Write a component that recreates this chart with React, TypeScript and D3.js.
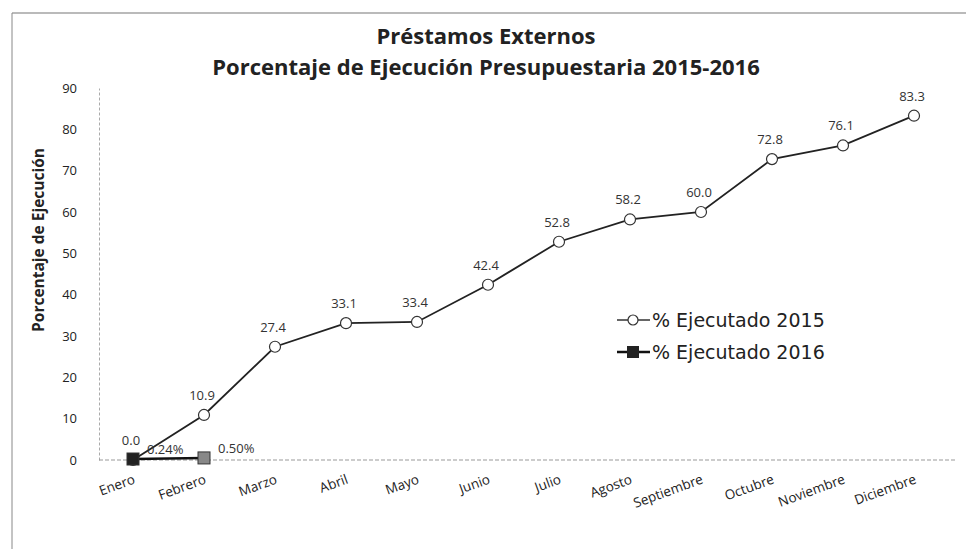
import { useEffect, useRef } from 'react';
import * as d3 from 'd3';

const months = [
  'Enero', 'Febrero', 'Marzo', 'Abril', 'Mayo', 'Junio',
  'Julio', 'Agosto', 'Septiembre', 'Octubre', 'Noviembre', 'Diciembre',
];
const ejecutado2015 = [0.0, 10.9, 27.4, 33.1, 33.4, 42.4, 52.8, 58.2, 60.0, 72.8, 76.1, 83.3];
const ejecutado2016 = [0.24, 0.5];
const labels2016 = ['0.24%', '0.50%'];
const yTicks = [0, 10, 20, 30, 40, 50, 60, 70, 80, 90];

export default function App(): JSX.Element {
  const svgRef = useRef<SVGSVGElement>(null);

  useEffect(() => {
    if (svgRef.current) {
      svgRef.current.innerHTML = '';
    }
    const width = 968;
    const height = 549;
    const font = "'Open Sans', 'Noto Sans', sans-serif";

    const x = d3.scalePoint<string>().domain(months).range([133, 914]);
    const y = d3.scaleLinear([0, 90], [460, 88]);

    const svg = d3
      .select(svgRef.current)
      .attr('width', width)
      .attr('height', height)
      .attr('viewBox', [0, 0, width, height])
      .style('display', 'block')
      .style('background', '#fff');

    // frame
    svg.append('line').attr('x1', 12).attr('x2', 966).attr('y1', 13).attr('y2', 13)
      .attr('stroke', '#777').attr('stroke-width', 1.2);
    svg.append('line').attr('x1', 12).attr('x2', 12).attr('y1', 13).attr('y2', 549)
      .attr('stroke', '#888').attr('stroke-width', 1);

    // title
    const title = svg.append('text').attr('text-anchor', 'middle').attr('font-family', font)
      .attr('font-weight', 700).attr('font-size', 22).attr('fill', '#222');
    title.append('tspan').attr('x', 486).attr('y', 44).text('Préstamos Externos');
    title.append('tspan').attr('x', 486).attr('y', 75).text('Porcentaje de Ejecución Presupuestaria 2015-2016');

    // y axis
    svg.append('g')
      .attr('transform', 'translate(99,0)')
      .call(d3.axisLeft(y).tickValues(yTicks).tickSize(0).tickPadding(22))
      .call((g) => g.select('.domain').attr('stroke', '#aaa').attr('stroke-dasharray', '3,2'))
      .call((g) => g.selectAll('text').attr('font-family', font).attr('font-size', 13).attr('fill', '#222'));

    svg.append('text')
      .attr('transform', 'translate(44,240) rotate(-90)')
      .attr('text-anchor', 'middle')
      .attr('font-family', font)
      .attr('font-weight', 700)
      .attr('font-size', 15.5)
      .attr('fill', '#222')
      .text('Porcentaje de Ejecución');

    // x axis baseline
    svg.append('line').attr('x1', 99).attr('x2', 955).attr('y1', y(0)).attr('y2', y(0))
      .attr('stroke', '#999').attr('stroke-dasharray', '4,2');

    svg.append('g')
      .selectAll('text')
      .data(months)
      .enter()
      .append('text')
      .attr('transform', (d) => `translate(${(x(d) as number) + 3},${y(0) + 23}) rotate(-20)`)
      .attr('text-anchor', 'end')
      .attr('font-family', font)
      .attr('font-size', 13.5)
      .attr('fill', '#222')
      .text((d) => d);

    // 2015 line
    const line = d3.line<number>()
      .x((_, i) => x(months[i]) as number)
      .y((d) => y(d));

    svg.append('path').attr('fill', 'none').attr('stroke', '#222').attr('stroke-width', 1.8)
      .attr('d', line(ejecutado2015));

    svg.selectAll('.p15')
      .data(ejecutado2015)
      .enter()
      .append('circle')
      .attr('class', 'p15')
      .attr('cx', (_, i) => x(months[i]) as number)
      .attr('cy', (d) => y(d))
      .attr('r', 5.5)
      .attr('fill', '#fff')
      .attr('stroke', '#333')
      .attr('stroke-width', 1.2);

    svg.selectAll('.l15')
      .data(ejecutado2015)
      .enter()
      .append('text')
      .attr('class', 'l15')
      .attr('x', (_, i) => (x(months[i]) as number) - 2)
      .attr('y', (d) => y(d) - 15)
      .attr('text-anchor', 'middle')
      .attr('font-family', font)
      .attr('font-size', 13)
      .attr('fill', '#333')
      .text((d) => d.toFixed(1));

    // 2016 line
    svg.append('path').attr('fill', 'none').attr('stroke', '#111').attr('stroke-width', 2.4)
      .attr('d', line(ejecutado2016));

    svg.selectAll('.p16')
      .data(ejecutado2016)
      .enter()
      .append('rect')
      .attr('class', 'p16')
      .attr('x', (_, i) => (x(months[i]) as number) - 6)
      .attr('y', (d) => y(d) - 6)
      .attr('width', 12)
      .attr('height', 12)
      .attr('fill', (_, i) => (i === 0 ? '#222' : '#888'))
      .attr('stroke', '#333')
      .attr('stroke-width', 1);

    svg.selectAll('.l16')
      .data(ejecutado2016)
      .enter()
      .append('text')
      .attr('class', 'l16')
      .attr('x', (_, i) => (x(months[i]) as number) + 14)
      .attr('y', (d) => y(d) - 5)
      .attr('font-family', font)
      .attr('font-size', 13)
      .attr('fill', '#333')
      .text((_, i) => labels2016[i]);

    // legend
    const legend = svg.append('g').attr('transform', 'translate(617,320)');
    legend.append('line').attr('x1', 0).attr('x2', 33).attr('y1', 0).attr('y2', 0)
      .attr('stroke', '#333').attr('stroke-width', 1.5);
    legend.append('circle').attr('cx', 16).attr('cy', 0).attr('r', 5).attr('fill', '#fff')
      .attr('stroke', '#333').attr('stroke-width', 1.2);
    legend.append('text').attr('x', 35).attr('y', 7).attr('font-family', "'DejaVu Sans', sans-serif")
      .attr('font-size', 19).attr('fill', '#222').text('% Ejecutado 2015');
    legend.append('line').attr('x1', 0).attr('x2', 33).attr('y1', 32).attr('y2', 32)
      .attr('stroke', '#111').attr('stroke-width', 2.4);
    legend.append('rect').attr('x', 10).attr('y', 26).attr('width', 12).attr('height', 12)
      .attr('fill', '#222');
    legend.append('text').attr('x', 35).attr('y', 39).attr('font-family', "'DejaVu Sans', sans-serif")
      .attr('font-size', 19).attr('fill', '#222').text('% Ejecutado 2016');
  }, []);

  return (
    <div style={{ position: 'absolute', left: 0, top: 0 }}>
      <svg ref={svgRef} />
    </div>
  );
}
